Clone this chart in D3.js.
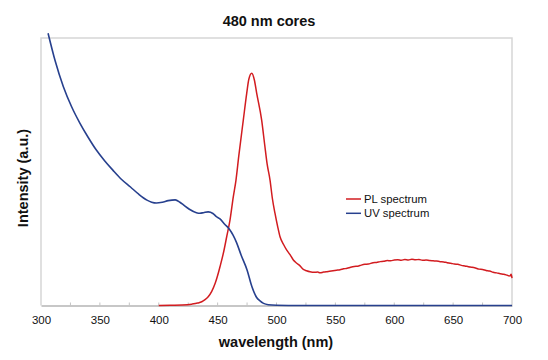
<!DOCTYPE html>
<html>
<head>
<meta charset="utf-8">
<script src="https://cdn.jsdelivr.net/npm/d3@7"></script>
<style>
  html, body { margin: 0; padding: 0; background: #fff; }
  svg { display: block; font-family: "Liberation Sans", Arial, Helvetica, sans-serif; }
</style>
</head>
<body>
<svg id="chart" width="548" height="360"></svg>
<script>
// ---- data ----
const title = "480 nm cores";
const xLabel = "wavelength (nm)";
const yLabel = "Intensity (a.u.)";
const xTicks = [300, 350, 400, 450, 500, 550, 600, 650, 700];
const xMinorTicks = [325, 350, 375, 400, 425, 450, 475, 500, 525, 550, 575, 600, 625, 650, 675];
const seriesNames = ["PL spectrum", "UV spectrum"];

const uvWavelength = [306, 312, 319, 326, 333, 340, 347, 354, 361, 368, 376, 383, 390, 394, 398, 403, 408, 414, 418, 421, 426, 432, 435, 438, 442, 446, 449, 452, 456, 460, 463, 466, 470, 475, 479, 483, 486, 489, 493, 500, 520, 600, 700];
const uvIntensity  = [101.8, 91.5, 81.8, 74.3, 68.2, 62.9, 58.1, 54.1, 50.6, 47.3, 44.3, 41.6, 39.4, 38.6, 38.3, 38.6, 39.2, 39.5, 38.6, 37.6, 36.0, 34.7, 34.5, 34.7, 35.0, 34.4, 33.2, 32.4, 30.4, 28.5, 26.4, 23.6, 18.8, 13.3, 7.2, 3.1, 1.7, 0.8, 0.3, 0.1, 0.0, 0.0, 0.0];

const plWavelength = [400, 410, 420, 428, 433, 436.5, 439, 442, 445, 448, 450, 452, 455, 457.7, 460.5, 463.3, 465.6, 468, 471.8, 474.7, 476.5, 479, 481.2, 483.2, 487.4, 490, 492, 494.5, 496.5, 498.7, 501, 503, 506, 508.7, 511.5, 514.3, 517.2, 520, 522.8, 525.5, 528.5, 532, 535, 537, 540, 542, 545, 548, 551, 554, 557, 560, 563, 566, 569, 572, 575, 578, 582, 585, 588, 591, 594, 597, 600, 603, 606, 609, 612, 615, 618, 621, 624, 627, 630, 633, 636, 639, 642, 645, 648, 651, 654, 657, 660, 663, 666, 669, 672, 675, 678, 681, 684, 687, 690, 693, 696, 698.3, 699.3, 700];
const plIntensity  = [0.0, 0.1, 0.2, 0.5, 0.9, 1.4, 2.1, 3.3, 5.3, 8.4, 11.2, 14.5, 19.8, 25.7, 31.9, 40.6, 46.9, 56.0, 69.3, 79.3, 84.6, 86.8, 84.3, 79.3, 69.3, 60.0, 53.0, 46.9, 40.0, 34.5, 29.5, 25.7, 22.8, 20.7, 19.0, 17.0, 15.8, 14.8, 13.5, 13.0, 12.6, 12.4, 12.5, 12.2, 12.5, 12.6, 12.8, 13.0, 13.2, 13.4, 13.7, 13.9, 14.3, 14.6, 14.7, 15.1, 15.4, 15.5, 16.0, 16.1, 16.4, 16.5, 16.8, 16.7, 17.0, 17.1, 16.9, 17.2, 17.0, 17.3, 17.1, 17.2, 16.9, 17.0, 16.8, 16.7, 16.6, 16.4, 16.3, 16.0, 15.8, 15.5, 15.4, 15.0, 14.8, 14.5, 14.3, 14.0, 13.6, 13.5, 13.1, 12.9, 12.4, 12.2, 11.9, 11.7, 11.3, 11.0, 11.7, 10.2];

// ---- drawing ----
const svg = d3.select("#chart");
const plotLeft = 41, plotRight = 512, plotTop = 38, plotBottom = 305.5;

const x = d3.scaleLinear().domain([300, 700]).range([plotLeft, plotRight]);
const y = d3.scaleLinear().domain([0, 100]).range([plotBottom, plotTop]);

// frame (left, top, right) in light gray
svg.append("path")
  .attr("d", `M${plotLeft},${plotBottom} V${plotTop} H${plotRight} V${plotBottom}`)
  .attr("fill", "none").attr("stroke", "#d6d6d6").attr("stroke-width", 1.5);

// x axis
const xAxis = d3.axisBottom(x).tickValues(xTicks).tickSize(0).tickPadding(10).tickFormat(d3.format("d"));
const gx = svg.append("g").attr("transform", `translate(0,${plotBottom})`).call(xAxis);
gx.select(".domain").attr("stroke", "#b4b4b4").attr("stroke-width", 1.5);
gx.selectAll("text").attr("font-size", 11.5).attr("fill", "#111");

// minor upward ticks
svg.append("g").selectAll("line").data(xMinorTicks).join("line")
  .attr("x1", d => x(d)).attr("x2", d => x(d))
  .attr("y1", plotBottom).attr("y2", plotBottom - 3)
  .attr("stroke", "#c4c4c4").attr("stroke-width", 1);

const line = d3.line().curve(d3.curveMonotoneX)
  .x(d => x(d[0])).y(d => y(d[1]));

const plData = plWavelength.map((w, i) => [w, plIntensity[i]]);
const uvData = uvWavelength.map((w, i) => [w, uvIntensity[i]]);
const colors = ["#d21c20", "#27408e"];

svg.append("path").datum(plData).attr("d", line)
  .attr("fill", "none").attr("stroke", colors[0]).attr("stroke-width", 1.5);
svg.append("path").datum(uvData).attr("d", line)
  .attr("fill", "none").attr("stroke", colors[1]).attr("stroke-width", 1.6);

// legend
const legend = svg.append("g").attr("transform", "translate(346,199)");
seriesNames.forEach((name, i) => {
  const g = legend.append("g").attr("transform", `translate(0,${i * 14.3})`);
  g.append("line").attr("x1", 0).attr("x2", 15).attr("y1", 0).attr("y2", 0)
    .attr("stroke", colors[i]).attr("stroke-width", 1.5);
  g.append("text").attr("x", 18).attr("y", 4).attr("font-size", 11.3).attr("fill", "#111").text(name);
});

// title and axis labels
svg.append("text").attr("x", 269).attr("y", 26).attr("text-anchor", "middle")
  .attr("font-size", 14.5).attr("font-weight", "bold").attr("fill", "#111").text(title);
svg.append("text").attr("x", 276).attr("y", 347).attr("text-anchor", "middle")
  .attr("font-size", 14.5).attr("font-weight", "bold").attr("fill", "#111").text(xLabel);
svg.append("text").attr("transform", "translate(28,178) rotate(-90)").attr("text-anchor", "middle")
  .attr("font-size", 14.5).attr("font-weight", "bold").attr("fill", "#111").text(yLabel);
</script>
</body>
</html>
